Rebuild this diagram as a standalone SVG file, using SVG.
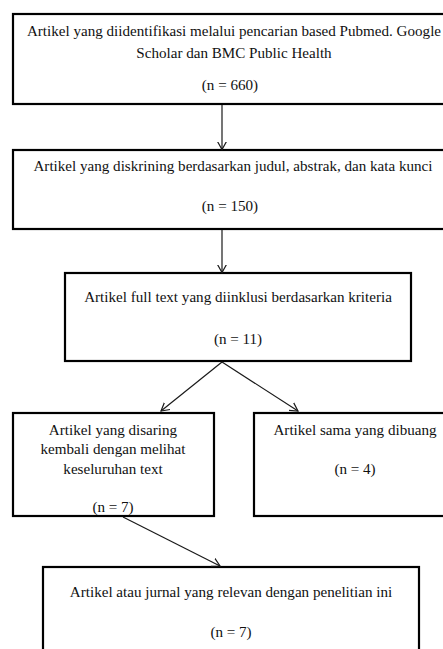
<svg xmlns="http://www.w3.org/2000/svg" width="443" height="649" viewBox="0 0 443 649">
<defs>
<style>
.box{fill:#fff;stroke:#000;stroke-width:2.2}
.t{font-family:"Liberation Serif","Times New Roman",serif;font-size:15.1px;fill:#111;text-anchor:middle}
.c{fill:none;stroke:#1a1a1a;stroke-width:1.2}
</style>
<marker id="ah" markerUnits="userSpaceOnUse" markerWidth="12" markerHeight="12" refX="8" refY="4.5" orient="auto" viewBox="0 0 12 9">
<path d="M0,0 L8,4.5 L0,9" fill="none" stroke="#1a1a1a" stroke-width="1.2"/>
</marker>
</defs>
<rect width="443" height="649" fill="#fff"/>
<g id="n1" font-family="Liberation Serif, serif">
<rect class="box" x="13" y="14" width="445" height="90"/>
<text class="t" x="234" y="36">Artikel yang diidentifikasi melalui pencarian based Pubmed. Google</text>
<text class="t" x="234" y="58">Scholar dan BMC Public Health</text>
<text class="t" x="230" y="90">(n = 660)</text>
</g>
<g id="n2" font-family="Liberation Serif, serif">
<rect class="box" x="13" y="150" width="445" height="79"/>
<text class="t" x="233" y="171">Artikel yang diskrining berdasarkan judul, abstrak, dan kata kunci</text>
<text class="t" x="230" y="211">(n = 150)</text>
</g>
<g id="n3" font-family="Liberation Serif, serif">
<rect class="box" x="65" y="273" width="346" height="88"/>
<text class="t" x="238" y="302">Artikel full text yang diinklusi berdasarkan kriteria</text>
<text class="t" x="238" y="344">(n = 11)</text>
</g>
<g id="n4" font-family="Liberation Serif, serif">
<rect class="box" x="13" y="413" width="201" height="103"/>
<text class="t" x="113" y="435">Artikel yang disaring</text>
<text class="t" x="113" y="454">kembali dengan melihat</text>
<text class="t" x="113" y="474">keseluruhan text</text>
<text class="t" x="113" y="512">(n = 7)</text>
</g>
<g id="n5" font-family="Liberation Serif, serif">
<rect class="box" x="254" y="413" width="204" height="103"/>
<text class="t" x="355" y="435">Artikel sama yang dibuang</text>
<text class="t" x="355" y="474">(n = 4)</text>
</g>
<g id="n6" font-family="Liberation Serif, serif">
<rect class="box" x="43" y="567" width="376" height="100"/>
<text class="t" x="231" y="597">Artikel atau jurnal yang relevan dengan penelitian ini</text>
<text class="t" x="231" y="637">(n = 7)</text>
</g>
<g id="connectors">
<path class="c" d="M222,105 L222,149.5" marker-end="url(#ah)"/>
<path class="c" d="M222,230 L222,272.5" marker-end="url(#ah)"/>
<path class="c" d="M222,362 L161,411" marker-end="url(#ah)"/>
<path class="c" d="M222,362 L298,411" marker-end="url(#ah)"/>
<path class="c" d="M123,517 L220,566" marker-end="url(#ah)"/>
</g>
</svg>
